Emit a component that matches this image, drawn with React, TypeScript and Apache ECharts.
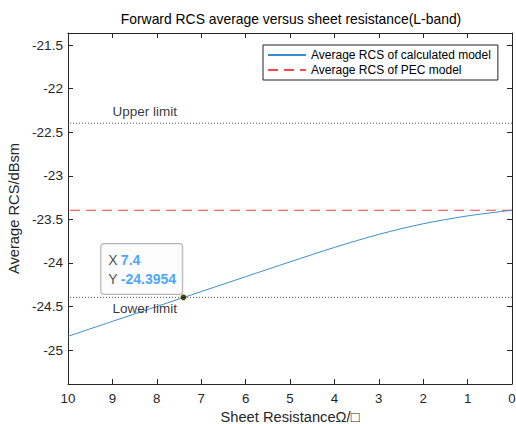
import React, { useEffect, useRef } from "react";
import * as echarts from "echarts";

const sheetResistance = [0, 1, 2, 3, 4, 5, 6, 7, 8, 9, 10];
const avgRcs = [-23.395, -23.46, -23.55, -23.672, -23.822, -23.988, -24.158, -24.329, -24.5, -24.671, -24.842];
const pecRcs = -23.3954;
const upperLimit = -22.3954;
const lowerLimit = -24.3954;
const tipX = 7.4;
const tipY = -24.3954;
const limitLabelX = 8.27;
const xTicks = { min: 0, max: 10, interval: 1 };
const yRange = { min: -25.39, max: -21.36 };

const FONT = "'Liberation Sans', Arial, Helvetica, sans-serif";
const AX = "#262626";

export default function App() {
  const ref = useRef<HTMLDivElement>(null);
  useEffect(() => {
    if (!ref.current) return;
    const chart = echarts.init(ref.current, null, { renderer: "svg" });
    const curve = sheetResistance.map((x, i) => [x, avgRcs[i]]);
    const xBase = {
      type: "value" as const,
      min: xTicks.min,
      max: xTicks.max,
      interval: xTicks.interval,
      inverse: true,
      axisLine: { show: true, onZero: false, lineStyle: { color: AX, width: 1 } },
      axisTick: { show: true, inside: true, length: 5, lineStyle: { color: AX } },
      splitLine: { show: false },
    };
    const yBase = {
      type: "value" as const,
      min: yRange.min,
      max: yRange.max,
      splitNumber: 8,
      axisLine: { show: true, onZero: false, lineStyle: { color: AX, width: 1 } },
      axisTick: { show: true, inside: true, length: 5, lineStyle: { color: AX } },
      splitLine: { show: false },
    };
    chart.setOption({
      animation: false,
      backgroundColor: "#ffffff",
      textStyle: { fontFamily: FONT },
      title: {
        text: "Forward RCS average versus sheet resistance(L-band)",
        left: 291,
        textAlign: "center",
        top: 12,
        padding: 0,
        textStyle: { fontFamily: FONT, fontSize: 13.9, fontWeight: "normal", color: "#000" },
      },
      grid: { left: 68, right: 4, top: 33, bottom: 40, outerBoundsMode: "none", containLabel: false },
      legend: {
        data: ["Average RCS of calculated model", "Average RCS of PEC model"],
        orient: "vertical",
        left: 263,
        top: 45,
        padding: [4, 7, 4, 4],
        itemWidth: 38,
        itemHeight: 14,
        itemGap: 3,
        itemStyle: { opacity: 0, borderWidth: 0 },
        borderColor: "#222",
        borderWidth: 1,
        borderRadius: 0,
        backgroundColor: "#fff",
        textStyle: { fontFamily: FONT, fontSize: 12, color: "#000" },
      },
      xAxis: [
        {
          ...xBase,
          position: "bottom",
          name: "Sheet ResistanceΩ/□",
          nameLocation: "middle",
          nameGap: 20,
          nameTextStyle: { fontFamily: FONT, fontSize: 14.7, color: AX },
          axisLabel: { margin: 8, fontFamily: FONT, fontSize: 13.3, color: AX },
        },
        { ...xBase, position: "top", axisLabel: { show: false } },
      ],
      yAxis: [
        {
          ...yBase,
          position: "left",
          name: "Average RCS/dBsm",
          nameLocation: "middle",
          nameGap: 36,
          nameTextStyle: { fontFamily: FONT, fontSize: 14.7, color: AX },
          axisLabel: { margin: 5, fontFamily: FONT, fontSize: 13.6, color: AX, showMinLabel: false, showMaxLabel: false },
        },
        { ...yBase, position: "right", axisLabel: { show: false } },
      ],
      series: [
        {
          name: "Average RCS of calculated model",
          type: "line",
          data: curve,
          showSymbol: false,
          symbol: "none",
          smooth: 0.3,
          lineStyle: { color: "#3a8cd0", width: 1 },
          itemStyle: { color: "#3a8cd0" },
          z: 3,
        },
        {
          name: "Average RCS of PEC model",
          type: "line",
          data: [[xTicks.min, pecRcs], [xTicks.max, pecRcs]],
          symbol: "none",
          lineStyle: { color: "#ff4444", width: 1, type: [10, 6] },
          itemStyle: { color: "#ff4444" },
          z: 2,
        },
        {
          name: "Upper limit",
          type: "line",
          data: [[xTicks.min, upperLimit], [xTicks.max, upperLimit]],
          symbol: "none",
          lineStyle: { color: "#555", width: 1, type: [1, 2] },
          z: 2,
        },
        {
          name: "Lower limit",
          type: "line",
          data: [[xTicks.min, lowerLimit], [xTicks.max, lowerLimit]],
          symbol: "none",
          lineStyle: { color: "#555", width: 1, type: [1, 2] },
          z: 2,
        },
        {
          name: "limitLabels",
          type: "scatter",
          symbolSize: 0,
          silent: true,
          data: [
            { value: [limitLabelX, upperLimit], label: { position: "top", distance: 5 } },
            { value: [limitLabelX, lowerLimit], label: { position: "bottom", distance: 4 } },
          ],
          label: {
            show: true,
            formatter: (p: any) => (p.dataIndex === 0 ? "Upper limit" : "Lower limit"),
            fontFamily: FONT,
            fontSize: 13.5,
            color: "#000",
          },
          z: 4,
        },
        {
          name: "datatip",
          type: "scatter",
          data: [[tipX, tipY]],
          symbol: "circle",
          symbolSize: 6,
          itemStyle: { color: "#111", borderColor: "#e8e800", borderWidth: 0.5 },
          label: {
            show: true,
            position: [-79, -50],
            align: "left",
            verticalAlign: "top",
            width: 66,
            padding: [6, 8, 6, 7],
            lineHeight: 19,
            backgroundColor: "#fbfbfd",
            borderColor: "#a0a0a0",
            borderWidth: 1,
            borderRadius: 3,
            formatter: (p: any) => `{k|X} {v|${p.value[0]}}\n{k|Y} {v|${p.value[1]}}`,
            rich: {
              k: { fontFamily: FONT, fontSize: 14, color: "#222", lineHeight: 19 },
              v: { fontFamily: FONT, fontSize: 14, color: "#1a8fff", fontWeight: "bold", lineHeight: 19 },
            },
          },
          z: 6,
        },
      ],
    });
    return () => chart.dispose();
  }, []);
  return <div ref={ref} style={{ width: 516, height: 424, position: "absolute", left: 0, top: 0 }} />;
}
